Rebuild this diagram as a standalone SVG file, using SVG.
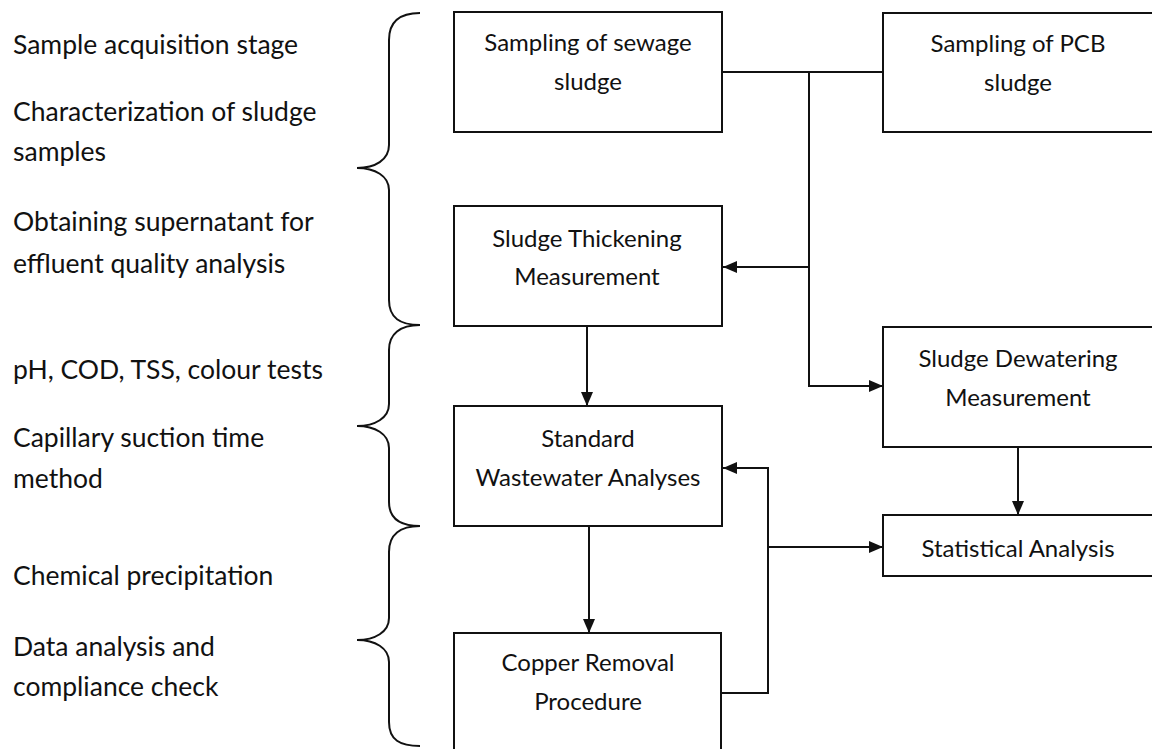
<svg xmlns="http://www.w3.org/2000/svg" width="1152" height="749" viewBox="0 0 1152 749">
<style>
  text { font-family: Lato, "Open Sans", "Liberation Sans", sans-serif; font-size: 24px; fill: #111; }
  .lab { font-size: 26.5px; }
  .c { text-anchor: middle; }
  .box { fill: #fff; stroke: #111; stroke-width: 2; }
  .ln { fill: none; stroke: #111; stroke-width: 2; }
  .brace { fill: none; stroke: #111; stroke-width: 2; }
</style>
<defs>
  <marker id="ah" viewBox="0 0 14 12" refX="14" refY="6" markerWidth="14" markerHeight="12" markerUnits="userSpaceOnUse" orient="auto">
    <path d="M0,0 L14,6 L0,12 Z" fill="#111"/>
  </marker>
</defs>
<rect width="1152" height="749" fill="#fff"/>

<g id="labels">
  <text class="lab" x="13" y="54">Sample acquisition stage</text>
  <text class="lab" x="13" y="121">Characterization of sludge</text>
  <text class="lab" x="13" y="161">samples</text>
  <text class="lab" x="13" y="231">Obtaining supernatant for</text>
  <text class="lab" x="13" y="273">effluent quality analysis</text>
  <text class="lab" x="13" y="379">pH, COD, TSS, colour tests</text>
  <text class="lab" x="13" y="447">Capillary suction time</text>
  <text class="lab" x="13" y="488">method</text>
  <text class="lab" x="13" y="585">Chemical precipitation</text>
  <text class="lab" x="13" y="656">Data analysis and</text>
  <text class="lab" x="13" y="696">compliance check</text>
</g>

<g id="braces">
  <path class="brace" d="M420,13 C400,13 389,22 389,40 L389,145 C389,160 375,168 357,168 C375,168 389,176 389,190 L389,300 C389,318 400,325 420,325"/>
  <path class="brace" d="M420,325 C400,325 389,334 389,350 L389,404 C389,418 375,426 357,426 C375,426 389,434 389,448 L389,502 C389,518 400,526 420,526"/>
  <path class="brace" d="M420,526 C400,526 389,535 389,552 L389,618 C389,632 375,640 357,640 C375,640 389,648 389,662 L389,722 C389,740 400,746 420,746"/>
</g>

<g id="connectors">
  <path class="ln" d="M722,72 L883,72"/>
  <path class="ln" d="M809,72 L809,386 L883,386" marker-end="url(#ah)"/>
  <path class="ln" d="M809,267 L723,267" marker-end="url(#ah)"/>
  <path class="ln" d="M587,327 L587,406" marker-end="url(#ah)"/>
  <path class="ln" d="M589,526 L589,633" marker-end="url(#ah)"/>
  <path class="ln" d="M1018,447 L1018,515" marker-end="url(#ah)"/>
  <path class="ln" d="M721,693 L768,693 L768,468 L723,468" marker-end="url(#ah)"/>
  <path class="ln" d="M768,547 L883,547" marker-end="url(#ah)"/>
</g>

<g id="n-sewage">
  <rect class="box" x="454" y="12" width="268" height="120"/>
  <text class="c" x="588" y="51">Sampling of sewage</text>
  <text class="c" x="588" y="90">sludge</text>
</g>
<g id="n-pcb">
  <rect class="box" x="883" y="13" width="270" height="119"/>
  <text class="c" x="1018" y="52">Sampling of PCB</text>
  <text class="c" x="1018" y="91">sludge</text>
</g>
<g id="n-thickening">
  <rect class="box" x="454" y="206" width="268" height="120"/>
  <text class="c" x="587" y="247">Sludge Thickening</text>
  <text class="c" x="587" y="285">Measurement</text>
</g>
<g id="n-dewatering">
  <rect class="box" x="883" y="327" width="270" height="120"/>
  <text class="c" x="1018" y="367">Sludge Dewatering</text>
  <text class="c" x="1018" y="406">Measurement</text>
</g>
<g id="n-standard">
  <rect class="box" x="454" y="406" width="268" height="120"/>
  <text class="c" x="588" y="447">Standard</text>
  <text class="c" x="588" y="486">Wastewater Analyses</text>
</g>
<g id="n-statistical">
  <rect class="box" x="883" y="515" width="270" height="61"/>
  <text class="c" x="1018" y="557">Statistical Analysis</text>
</g>
<g id="n-copper">
  <rect class="box" x="454" y="633" width="267" height="130"/>
  <text class="c" x="588" y="671">Copper Removal</text>
  <text class="c" x="588" y="710">Procedure</text>
</g>
</svg>
